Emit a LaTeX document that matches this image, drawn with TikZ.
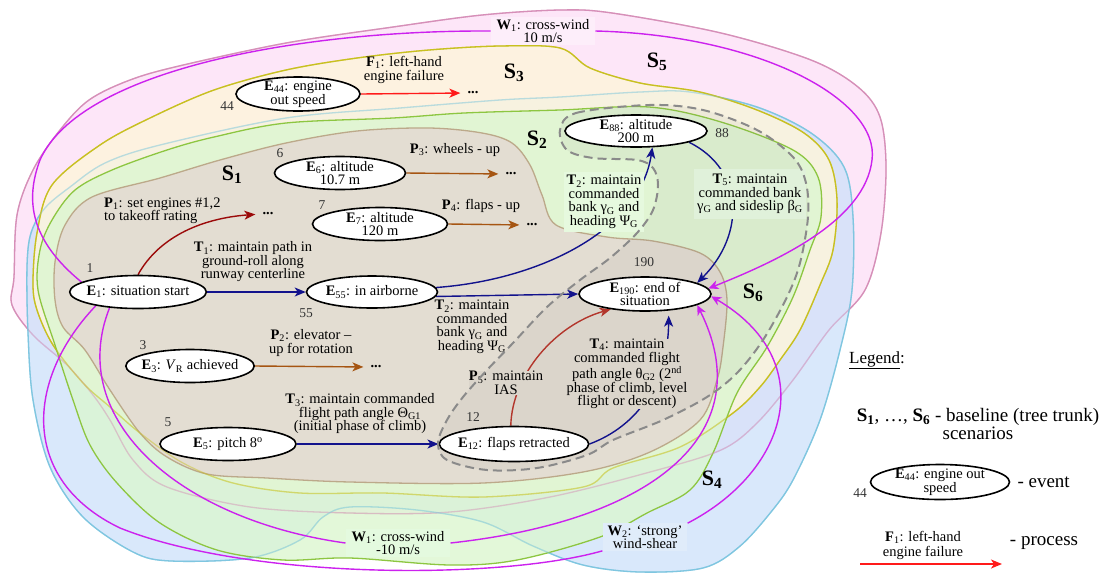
\documentclass[tikz,border=0pt]{standalone}
\usepackage{fontspec}
\setmainfont{Liberation Serif}
\usetikzlibrary{
  positioning,
  arrows.meta,
  shapes.geometric
}

\definecolor{sfivefill}{HTML}{FDE6F8}
\definecolor{sfiveline}{HTML}{D68FB8}
\definecolor{sfourfill}{HTML}{D0E2FA}
\definecolor{sfourline}{HTML}{7FC6E0}
\definecolor{sthreefill}{HTML}{FDF5DC}
\definecolor{sthreeline}{HTML}{C8C020}
\definecolor{stwofill}{HTML}{DCF6D0}
\definecolor{stwoline}{HTML}{8DC641}
\definecolor{sonefill}{HTML}{E3DDD2}
\definecolor{soneline}{HTML}{BCA98A}
\definecolor{ssixfill}{HTML}{DBD5CB}
\definecolor{ssixline}{HTML}{8A8A8A}
\definecolor{tblue}{HTML}{12128C}
\definecolor{pdark}{HTML}{9B0A0A}
\definecolor{pfive}{HTML}{B3362C}
\definecolor{pbrown}{HTML}{A65512}
\definecolor{fred}{HTML}{FF1A1A}
\definecolor{wmag}{HTML}{CC22EE}
\definecolor{tbgone}{HTML}{E6F9DE}
\definecolor{tbgfive}{HTML}{E0F1DA}
\definecolor{wbgone}{HTML}{FDEEFA}
\definecolor{wbgtwo}{HTML}{E4FADF}
\definecolor{wbgthree}{HTML}{E0ECFA}

\newcommand{\evt}[1]{\textbf{E}\textsubscript{#1}}
\newcommand{\bsub}[2]{\textbf{#1}\textsubscript{#2}}

% outlines of the scenario areas
\newcommand{\areafive}{plot[smooth cycle, tension=0.55] coordinates {(14,277) (17,215) (33,170) (60,130) (89,100) (130,80) (179,66) (286,43) (393,27) (482,15) (560,10) (612,13) (721,33) (811,60) (858,87) (880,117) (886,167) (881,233) (865,290) (829,330) (793,380) (757,423) (721,450) (650,472) (550,497) (450,512) (350,513) (250,507) (167,487) (133,460) (110,420) (93,395) (67,365) (33,335) (12,305)}}
\newcommand{\areafour}{plot[smooth cycle, tension=0.55] coordinates {(45,208) (70,187) (105,163) (160,145) (286,118) (400,108) (500,100) (560,97) (640,92) (690,92) (757,107) (811,133) (844,167) (853,217) (852,290) (840,350) (820,420) (793,480) (771,512) (739,547) (703,568) (640,572) (583,565) (533,546) (483,522) (417,510) (350,507) (323,517) (300,540) (250,558) (171,561) (133,552) (83,517) (50,467) (33,400) (28,333) (27,267) (31,233)}}
\newcommand{\areathree}{plot[smooth cycle, tension=0.55] coordinates {(33,283) (37,233) (52,185) (100,145) (150,118) (214,90) (286,70) (357,58) (429,50) (500,46) (560,48) (590,68) (640,83) (700,92) (757,110) (804,133) (829,160) (837,200) (833,250) (820,285) (800,330) (780,360) (760,387) (733,413) (680,447) (613,468) (583,487) (483,497) (383,493) (300,493) (233,483) (183,463) (140,433) (110,407) (83,383) (53,345) (37,310)}}
\newcommand{\areatwo}{plot[smooth cycle, tension=0.55] coordinates {(38,290) (40,250) (52,220) (75,190) (112,170) (167,150) (214,137) (286,123) (393,118) (464,113) (560,110) (649,107) (721,122) (793,150) (818,177) (821,217) (810,250) (793,297) (767,347) (737,393) (713,453) (690,490) (647,513) (600,537) (517,560) (450,565) (350,558) (283,560) (217,550) (160,523) (117,483) (90,445) (73,400) (55,345)}}
\newcommand{\areaone}{plot[smooth cycle, tension=0.55] coordinates {(55,300) (55,262) (65,225) (92,197) (160,178) (220,160) (286,143) (357,131) (429,128) (482,133) (512,143) (530,165) (542,195) (556,225) (607,237) (653,241) (700,253) (720,272) (727,300) (723,347) (717,380) (700,420) (650,452) (583,472) (483,483) (350,482) (267,478) (207,474) (167,457) (140,433) (110,390) (85,350) (63,327)}}
\newcommand{\areasix}{plot[smooth cycle, tension=0.55] coordinates {(560,130) (576,113) (649,105) (703,110) (757,130) (793,157) (806,183) (808,217) (800,263) (787,297) (763,340) (737,373) (707,397) (663,420) (613,440) (587,455) (537,468) (487,470) (447,460) (438,443) (447,420) (463,397) (487,370) (513,343) (547,307) (580,280) (610,258) (637,233) (653,210) (658,185) (653,168) (637,160) (593,158) (567,150)}}

\pgfdeclarelayer{areas}
\pgfdeclarelayer{links}
\pgfdeclarelayer{front}
\pgfsetlayers{areas,links,main,front}

\tikzset{
  event/.style = {ellipse, draw, line width=1.6pt, fill=white, inner xsep=-3pt, inner ysep=-2pt, align=center, font=\fontsize{14.5}{13}\selectfont},
  txt/.style = {align=center, inner sep=1pt, font=\fontsize{14.5}{13.5}\selectfont},
  num/.style = {inner sep=0pt, text=black!80, font=\fontsize{13.5}{13.5}\selectfont},
  scen/.style = {inner sep=0pt, font=\fontsize{22}{22}\selectfont\bfseries},
  cont/.style = {inner xsep=2pt, inner ysep=1pt, font=\fontsize{14.5}{14.5}\selectfont\bfseries},
  area/.style = {line width=1.3pt},
  tline/.style = {draw=tblue, line width=1.4pt, -{Stealth[length=11pt, width=9pt, inset=3pt]}},
  pline/.style = {line width=1.4pt, shorten >=5pt, -{Stealth[length=11pt, width=9pt, inset=3pt]}},
  wline/.style = {draw=wmag, line width=1.4pt},
  wtip/.style = {-{Stealth[length=10pt, width=9pt, inset=3pt]}}
}

\begin{document}
\begin{tikzpicture}[x=1pt, y=-1pt]
  \useasboundingbox (0,0) rectangle (1107,574);

  % scenario areas
  \begin{pgfonlayer}{areas}
    \draw[area, draw=sfiveline, fill=sfivefill] \areafive;
    \draw[area, draw=sfourline, fill=sfourfill, fill opacity=0.8] \areafour;
    \draw[area, draw=sthreeline, fill=sthreefill, fill opacity=0.85] \areathree;
    \draw[area, draw=stwoline, fill=stwofill, fill opacity=0.8] \areatwo;
    \draw[area, draw=soneline, fill=sonefill] \areaone;
    \fill[gray, fill opacity=0.08] \areasix;
    \draw[area, draw=sfiveline, draw opacity=0.45] \areafive;
    \draw[area, draw=sfourline, draw opacity=0.45] \areafour;
    \draw[area, draw=sthreeline, draw opacity=0.45] \areathree;
  \end{pgfonlayer}
  \begin{pgfonlayer}{front}
    \draw[ssixline, line width=2pt, dash pattern=on 9pt off 5pt] \areasix;
  \end{pgfonlayer}

  % scenario names
  \node[scen] (sone) at (232,175) {S\textsubscript{1}};
  \node[scen] (stwo) at (537,140) {S\textsubscript{2}};
  \node[scen] (sthree) at (514,73) {S\textsubscript{3}};
  \node[scen] (sfour) at (712,480) {S\textsubscript{4}};
  \node[scen] (sfive) at (657,62) {S\textsubscript{5}};
  \node[scen] (ssix) at (753,293) {S\textsubscript{6}};

  % events
  \node[event, minimum width=134pt, minimum height=33pt] (e1) at (138,292) {\evt{1}: situation start};
  \node[event, minimum width=131pt, minimum height=32pt] (e55) at (372,292) {\evt{55}: in airborne};
  \node[event, minimum width=127pt, minimum height=33pt] (e3) at (190,366) {\evt{3}: \textit{V}\textsubscript{R} achieved};
  \node[event, minimum width=136pt, minimum height=33pt] (e5) at (228,444) {\evt{5}: pitch 8\textsuperscript{o}};
  \node[event, minimum width=142pt, minimum height=35pt] (e12) at (514,444) {\evt{12}: flaps retracted};
  \node[event, minimum width=131pt, minimum height=33pt] (e6) at (340,173) {\evt{6}: altitude\\10.7 m};
  \node[event, minimum width=135pt, minimum height=33pt] (e7) at (380,224) {\evt{7}: altitude\\120 m};
  \node[event, minimum width=142pt, minimum height=32pt] (e88) at (636,131) {\evt{88}: altitude\\200 m};
  \node[event, minimum width=132pt, minimum height=34pt] (e190) at (645,294) {\evt{190}: end of\\situation};
  \node[event, minimum width=124pt, minimum height=34pt] (e44) at (298,94) {\evt{44}: engine\\out speed};

  % event numbers
  \node[num] (n1) at (90,268) {1};
  \node[num] (n55) at (306,313) {55};
  \node[num] (n3) at (143,345) {3};
  \node[num] (n5) at (168,422) {5};
  \node[num] (n12) at (473,417) {12};
  \node[num] (n6) at (280,153) {6};
  \node[num] (n7) at (322,205) {7};
  \node[num] (n44) at (227,106) {44};
  \node[num] (n88) at (722,133) {88};
  \node[num] (n190) at (644,262) {190};

  % continuations
  \node[cont] (dots1) at (268,214) {...};
  \node[cont] (dots2) at (376,367) {...};
  \node[cont] (dots3) at (511,174) {...};
  \node[cont] (dots4) at (532,225) {...};
  \node[cont] (dotsf) at (473,93) {...};

  % process and trajectory labels
  \node[txt, align=left, anchor=west] (p1) at (103,211) {\bsub{P}{1}: set engines \#1,2\\to takeoff rating};
  \node[txt] (t1) at (253,262) {\bsub{T}{1}: maintain path in\\ground-roll along\\runway centerline};
  \node[txt] (p2) at (311,343) {\bsub{P}{2}: elevator –\\up for rotation};
  \node[txt] (p3) at (455,150) {\bsub{P}{3}: wheels - up};
  \node[txt] (p4) at (481,206) {\bsub{P}{4}: flaps - up};
  \node[txt] (f1) at (404,70) {\bsub{F}{1}: left-hand\\engine failure};
  \node[txt] (t3) at (360,414) {\bsub{T}{3}: maintain commanded\\flight path angle Θ\textsubscript{G1}\\(initial phase of climb)};
  \node[txt] (t2b) at (472,327) {\bsub{T}{2}: maintain\\commanded\\bank γ\textsubscript{G} and\\heading Ψ\textsubscript{G}};
  \node[txt, fill=tbgone, inner sep=3pt] (t2a) at (604,202) {\bsub{T}{2}: maintain\\commanded\\bank γ\textsubscript{G} and\\heading Ψ\textsubscript{G}};
  \node[txt, fill=tbgfive, inner xsep=3pt, inner ysep=5pt] (t5) at (750,194) {\bsub{T}{5}: maintain\\commanded bank\\γ\textsubscript{G} and sideslip β\textsubscript{G}};
  \node[txt, fill=ssixfill, inner sep=0pt] (t4) at (627,374) {\bsub{T}{4}: maintain\\commanded flight\\path angle θ\textsubscript{G2} (2\textsuperscript{nd}\\phase of climb, level\\flight or descent)};
  \node[txt, fill=ssixfill, inner sep=0pt] (p5) at (506,383) {\bsub{P}{5}: maintain\\IAS};
  \node[txt, fill=wbgone, inner xsep=6pt, inner ysep=2pt] (w1a) at (543,31) {\bsub{W}{1}: cross-wind\\10 m/s};
  \node[txt, fill=wbgtwo, inner xsep=6pt, inner ysep=2pt] (w1b) at (398,543) {\bsub{W}{1}: cross-wind\\-10 m/s};
  \node[txt, fill=wbgthree, inner xsep=5pt, inner ysep=2pt] (w2) at (645,537) {\bsub{W}{2}: ‘strong’\\wind-shear};

  % legend
  \node[inner sep=0pt, font=\fontsize{17}{17}\selectfont] (legtitle) at (877,360) {\underline{Legend}:};
  \node[txt, font=\fontsize{19}{18}\selectfont] (legscen) at (978,424) {\textbf{S\textsubscript{1}}, …, \textbf{S\textsubscript{6}} - baseline (tree trunk)\\scenarios};
  \node[event, minimum width=139pt, minimum height=35pt] (legevt) at (940,482) {\evt{44}: engine out\\speed};
  \node[num] (legnum) at (860,493) {44};
  \node[txt, font=\fontsize{19}{19}\selectfont, right=6pt of legevt] (legevtx) {- event};
  \node[txt, font=\fontsize{14.5}{15}\selectfont] (legf) at (923,545) {\bsub{F}{1}: left-hand\\engine failure};
  \node[txt, font=\fontsize{19}{19}\selectfont] (legproc) at (1044,543) {- process};
  \coordinate (lega) at (860,564);
  \coordinate (legb) at (1002,564);

  % connections
  \begin{pgfonlayer}{links}
    \draw[pline, pdark] (e1.north) .. controls (160,235) and (205,218) .. (dots1.west);
    \draw[pline, pbrown] (e3.east) -- (dots2.west);
    \draw[pline, pbrown] (e6.east) -- (dots3.west);
    \draw[pline, pbrown] (e7.east) -- (dots4.west);
    \draw[pline, fred] (e44.east) -- (dotsf.west);
    \draw[pline, pfive, shorten >=0pt] (e12.100) .. controls (512,375) and (555,325) .. (e190.-156);

    \draw[tline] (e1.east) -- (e55.west);
    \draw[tline] (e5.east) -- (e12.west);
    \draw[tline] (e55.-4) -- (e190.west);
    \draw[tline] (e55.4) .. controls (540,280) and (640,230) .. (e88.-45);
    \draw[tline] (e88.-12) .. controls (745,170) and (745,235) .. (e190.12);
    \draw[tline, shorten >=5pt] (e12.east) .. controls (640,425) and (668,380) .. (e190.-35);

    \draw[wline] (e1.170) .. controls (30,240) and (25,200) .. (40,160) .. controls (80,70) and (300,30) .. (w1a.west);
    \draw[wline, wtip] (w1a.east) .. controls (760,35) and (880,100) .. (872,160) .. controls (865,220) and (780,260) .. (e190.5);
    \draw[wline] (e1.-151) .. controls (65,420) and (180,520) .. (w1b.west);
    \draw[wline, wtip] (w1b.east) .. controls (660,520) and (760,430) .. (e190.-12);
    \draw[wline] (e1.-162) .. controls (25,380) and (20,480) .. (120,528) .. controls (250,580) and (500,580) .. (w2.south west);
    \draw[wline, wtip] (w2.north east) .. controls (790,470) and (820,360) .. (e190.-2);

    \draw[pline, fred, shorten >=0pt] (lega) -- (legb);
  \end{pgfonlayer}
\end{tikzpicture}
\end{document}
